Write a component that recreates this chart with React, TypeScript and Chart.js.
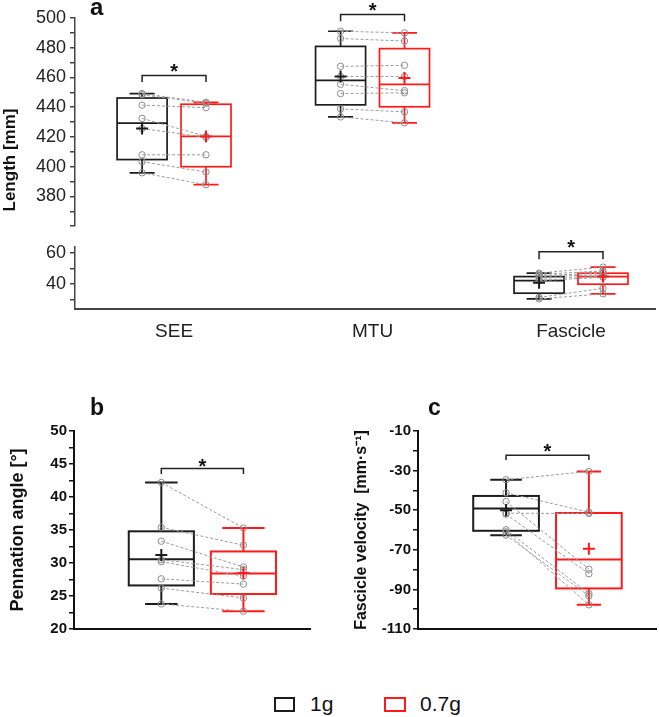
import React, { useEffect, useRef } from 'react';
import { Chart, registerables } from 'chart.js';

Chart.register(...registerables);

const FONT = "'Liberation Sans', Arial, Helvetica, sans-serif";
Chart.defaults.font.family = FONT;

// ---------------- data ----------------
const lengthCategories = ['SEE', 'MTU', 'Fascicle'];
const legendLabels = ['1g', '0.7g'];

const lengthTopTickLabels = [380, 400, 420, 440, 460, 480, 500];
const lengthBottomTickLabels = [40, 60];
const angleTickLabels = [20, 25, 30, 35, 40, 45, 50];
const velocityTickLabels = [-110, -90, -70, -50, -30, -10];

// individual subjects (1g, 0.7g), box stats [low whisker, Q1, median, Q3, high whisker], means [1g, 0.7g]
const see1g = [449.2, 448.4, 441.4, 432.5, 425.7, 408.0, 403.4, 395.9];
const see07g = [443.3, 442.7, 439.7, 420.4, 419.8, 408.0, 396.4, 387.9];
const seeBox1g = [395.9, 404.8, 429.3, 446.2, 449.2];
const seeBox07g = [387.9, 400.0, 420.4, 442.0, 443.3];
const seeMean = [425.7, 420.4];

const mtu1g = [491.1, 486.2, 467.5, 460.7, 455.4, 449.2, 438.9, 433.5];
const mtu07g = [490.0, 484.5, 468.2, 460.7, 451.1, 449.7, 436.9, 429.5];
const mtuBox1g = [433.5, 441.6, 458.0, 480.9, 491.1];
const mtuBox07g = [429.5, 440.3, 455.4, 479.4, 490.0];
const mtuMean = [460.7, 459.6];

const fas1g = [47.1, 46.4, 45.6, 45.0, 43.9, 42.3, 31.5, 30.5];
const fas07g = [51.0, 48.5, 47.1, 46.0, 45.0, 44.5, 37.4, 33.8];
const fasBox1g = [30.5, 34.2, 42.3, 44.9, 47.1];
const fasBox07g = [33.8, 40.0, 44.9, 47.1, 51.0];
const fasMean = [41.0, 44.9];

const angle1g = [42.2, 35.4, 33.3, 30.5, 30.2, 27.6, 26.2, 23.8];
const angle07g = [35.3, 32.7, 29.4, 29.0, 28.0, 26.8, 24.7, 22.7];
const angleBox1g = [23.8, 26.6, 30.55, 34.8, 42.2];
const angleBox07g = [22.7, 25.3, 28.4, 31.75, 35.3];
const angleMean = [31.2, 28.5];

const vel1g = [-34.6, -41.2, -45.6, -51.5, -52.0, -59.9, -60.9, -62.6];
const vel07g = [-30.4, -51.0, -79.8, -51.7, -82.1, -92.1, -97.8, -93.3];
const velBox1g = [-62.6, -60.4, -49.1, -42.8, -34.6];
const velBox07g = [-97.8, -89.5, -74.9, -51.4, -30.4];
const velMean = [-50.0, -69.5];

// tick positions (major + minor) per axis
const lengthTopTicks = [360, 370, 380, 390, 400, 410, 420, 430, 440, 450, 460, 470, 480, 490, 500];
const lengthBottomTicks = [30, 40, 50, 60];
const angleTicks = [20, 22.5, 25, 27.5, 30, 32.5, 35, 37.5, 40, 42.5, 45, 47.5, 50];
const velocityTicks = [-110, -100, -90, -80, -70, -60, -50, -40, -30, -20, -10];

// significance brackets, in data units: [bracket top, leg end, star centre]
const seeSig = [461.3, 456.9, 467.1];
const mtuSig = [502.3, 497.8, 508.5];
const fasSig = [61.0, 56.1, 66.6];
const angleSig = [44.32, 43.47, 45.45];
const velSig = [-22.2, -24.6, -17.9];

// ---------------- layout / style ----------------
const BLACK = '#1c1c1c';
const RED = '#ff1a1a';
const AXIS_A = '#444';
const A_MIN = 0.501;
const A_MAX = 3.423;
const A_OFF = 0.161;
const A_HALF = 0.126;
const BC_X1 = 0.37;
const BC_X2 = 0.718;
const BC_HALF = 0.138;

type Box = { x: number; half: number; cap: number; stats: number[]; color: string; lw: number };
type Bracket = { x1: number; x2: number; sig: number[] };
type Txt = { text: string; x: number; y: number; font: string; align?: CanvasTextAlign; baseline?: CanvasTextBaseline; rotate?: boolean };

function annotPlugin(boxes: Box[], brackets: Bracket[], texts: Txt[]) {
  return {
    id: 'annot',
    beforeDatasetsDraw(chart: any) {
      const { ctx } = chart;
      const x = chart.scales.x;
      const y = chart.scales.y;
      boxes.forEach((b) => {
        const cx = x.getPixelForValue(b.x);
        const hw = x.getPixelForValue(b.x + b.half) - cx;
        const cw = hw * b.cap;
        const [lo, q1, med, q3, hi] = b.stats.map((v) => y.getPixelForValue(v));
        ctx.save();
        ctx.strokeStyle = b.color;
        ctx.lineWidth = b.lw;
        ctx.strokeRect(cx - hw, q3, 2 * hw, q1 - q3);
        ctx.beginPath();
        ctx.moveTo(cx - hw, med);
        ctx.lineTo(cx + hw, med);
        ctx.moveTo(cx, q3);
        ctx.lineTo(cx, hi);
        ctx.moveTo(cx - cw, hi);
        ctx.lineTo(cx + cw, hi);
        ctx.moveTo(cx, q1);
        ctx.lineTo(cx, lo);
        ctx.moveTo(cx - cw, lo);
        ctx.lineTo(cx + cw, lo);
        ctx.stroke();
        ctx.restore();
      });
    },
    afterDraw(chart: any) {
      const { ctx } = chart;
      const x = chart.scales.x;
      const y = chart.scales.y;
      brackets.forEach((br) => {
        const x1 = x.getPixelForValue(br.x1);
        const x2 = x.getPixelForValue(br.x2);
        const top = y.getPixelForValue(br.sig[0]);
        const leg = y.getPixelForValue(br.sig[1]);
        const star = y.getPixelForValue(br.sig[2]);
        ctx.save();
        ctx.strokeStyle = '#222';
        ctx.lineWidth = 1.5;
        ctx.beginPath();
        ctx.moveTo(x1, leg);
        ctx.lineTo(x1, top);
        ctx.lineTo(x2, top);
        ctx.lineTo(x2, leg);
        ctx.stroke();
        ctx.fillStyle = '#111';
        ctx.font = `bold 20px ${FONT}`;
        ctx.textAlign = 'center';
        ctx.textBaseline = 'alphabetic';
        ctx.fillText('*', (x1 + x2) / 2, star + 11.5);
        ctx.restore();
      });
      texts.forEach((t) => {
        ctx.save();
        ctx.fillStyle = '#111';
        ctx.font = t.font;
        ctx.textAlign = t.align || 'left';
        ctx.textBaseline = t.baseline || 'alphabetic';
        ctx.translate(t.x, t.y);
        if (t.rotate) ctx.rotate(-Math.PI / 2);
        ctx.fillText(t.text, 0, 0);
        ctx.restore();
      });
    },
  };
}

function groupDatasets(x1: number, x2: number, g1: number[], g07: number[], means: number[]) {
  const link: any[] = [];
  g1.forEach((v, i) => {
    link.push({ x: x1, y: v }, { x: x2, y: g07[i] }, { x: (x1 + x2) / 2, y: null });
  });
  const pts = (xx: number, arr: number[]) => arr.map((v) => ({ x: xx, y: v }));
  return [
    { type: 'line', data: link, borderColor: '#9d9d9d', borderWidth: 1, borderDash: [3, 2], pointRadius: 0, pointHoverRadius: 0, spanGaps: false, fill: false, showLine: true, order: 3 },
    { type: 'scatter', data: pts(x1, g1), pointStyle: 'circle', pointRadius: 3.2, borderWidth: 1, borderColor: '#8c8c8c', backgroundColor: 'rgba(255,255,255,0)', order: 2 },
    { type: 'scatter', data: pts(x2, g07), pointStyle: 'circle', pointRadius: 3.2, borderWidth: 1, borderColor: '#8c8c8c', backgroundColor: 'rgba(255,255,255,0)', order: 2 },
    { type: 'scatter', data: [{ x: x1, y: means[0] }], pointStyle: 'cross', pointRadius: 6, borderWidth: 2, borderColor: BLACK, order: 1 },
    { type: 'scatter', data: [{ x: x2, y: means[1] }], pointStyle: 'cross', pointRadius: 6, borderWidth: 2, borderColor: RED, order: 1 },
  ];
}

function near(list: number[], v: number) {
  return list.some((t) => Math.abs(t - v) < 1e-6);
}

function baseOptions(scales: any, padding: any) {
  return {
    responsive: false,
    maintainAspectRatio: false,
    animation: false,
    events: [],
    layout: { autoPadding: false, padding },
    plugins: { legend: { display: false }, tooltip: { enabled: false }, title: { display: false } },
    scales,
  };
}

function yAxisA(min: number, max: number, ticksAt: number[], labels: number[]) {
  return {
    type: 'linear',
    min,
    max,
    afterBuildTicks: (s: any) => { s.ticks = ticksAt.map((v) => ({ value: v })); },
    afterFit: (s: any) => { s.width = 75; },
    ticks: {
      autoSkip: false,
      padding: 4,
      color: '#222',
      font: { size: 18, family: FONT },
      callback: (v: number) => (near(labels, v) ? String(Math.round(v)) : ''),
    },
    grid: { display: true, drawOnChartArea: false, drawTicks: true, tickLength: 5, color: AXIS_A, lineWidth: 1.5 },
    border: { display: true, color: AXIS_A, width: 1.5 },
  };
}

function buildLengthTop() {
  const datasets = [
    ...groupDatasets(1 - A_OFF, 1 + A_OFF, see1g, see07g, seeMean),
    ...groupDatasets(2 - A_OFF, 2 + A_OFF, mtu1g, mtu07g, mtuMean),
  ];
  const boxes: Box[] = [
    { x: 1 - A_OFF, half: A_HALF, cap: 0.5, stats: seeBox1g, color: BLACK, lw: 1.7 },
    { x: 1 + A_OFF, half: A_HALF, cap: 0.5, stats: seeBox07g, color: RED, lw: 1.7 },
    { x: 2 - A_OFF, half: A_HALF, cap: 0.5, stats: mtuBox1g, color: BLACK, lw: 1.7 },
    { x: 2 + A_OFF, half: A_HALF, cap: 0.5, stats: mtuBox07g, color: RED, lw: 1.7 },
  ];
  const brackets: Bracket[] = [
    { x1: 1 - A_OFF, x2: 1 + A_OFF, sig: seeSig },
    { x1: 2 - A_OFF, x2: 2 + A_OFF, sig: mtuSig },
  ];
  const texts: Txt[] = [
    { text: 'a', x: 90, y: 15, font: `bold 24px ${FONT}` },
    { text: 'Length [mm]', x: 10, y: 160, font: `bold 17px ${FONT}`, align: 'center', baseline: 'middle', rotate: true },
  ];
  return {
    type: 'scatter',
    data: { datasets },
    options: baseOptions(
      {
        x: { type: 'linear', min: A_MIN, max: A_MAX, display: false },
        y: yAxisA(360, 500, lengthTopTicks, lengthTopTickLabels),
      },
      { left: 0, right: 4, top: 18, bottom: 3 }
    ),
    plugins: [annotPlugin(boxes, brackets, texts)],
  };
}

function buildLengthBottom() {
  const datasets = groupDatasets(3 - A_OFF, 3 + A_OFF, fas1g, fas07g, fasMean);
  const boxes: Box[] = [
    { x: 3 - A_OFF, half: A_HALF, cap: 0.5, stats: fasBox1g, color: BLACK, lw: 1.7 },
    { x: 3 + A_OFF, half: A_HALF, cap: 0.5, stats: fasBox07g, color: RED, lw: 1.7 },
  ];
  const brackets: Bracket[] = [{ x1: 3 - A_OFF, x2: 3 + A_OFF, sig: fasSig }];
  return {
    type: 'scatter',
    data: { datasets },
    options: baseOptions(
      {
        x: {
          type: 'linear',
          min: A_MIN,
          max: A_MAX,
          afterBuildTicks: (s: any) => { s.ticks = lengthCategories.map((_, i) => ({ value: i + 1 })); },
          afterFit: (s: any) => { s.height = 44; },
          ticks: {
            autoSkip: false,
            maxRotation: 0,
            padding: 3,
            color: '#222',
            font: { size: 19, family: FONT },
            callback: (_v: number, i: number) => lengthCategories[i],
          },
          grid: { display: false },
          border: { display: true, color: AXIS_A, width: 2 },
        },
        y: yAxisA(24, 64, lengthBottomTicks, lengthBottomTickLabels),
      },
      { left: 0, right: 4, top: 19, bottom: 0 }
    ),
    plugins: [annotPlugin(boxes, brackets, [])],
  };
}

function yAxisBC(min: number, max: number, ticksAt: number[], labels: number[], width: number, title: string, titleSize: number, titlePad: number) {
  return {
    type: 'linear',
    min,
    max,
    afterBuildTicks: (s: any) => { s.ticks = ticksAt.map((v) => ({ value: v })); },
    afterFit: (s: any) => { s.width = width; },
    ticks: {
      autoSkip: false,
      padding: 2,
      color: '#111',
      font: { size: 15, weight: 'bold', family: FONT },
      callback: (v: number) => (near(labels, v) ? String(Math.round(v)) : ''),
    },
    grid: { display: true, drawOnChartArea: false, drawTicks: true, tickLength: 5, color: '#111', lineWidth: 1.5 },
    border: { display: true, color: '#111', width: 2 },
    title: { display: true, text: title, color: '#111', font: { size: titleSize, weight: 'bold', family: FONT }, padding: { top: titlePad, bottom: 0 } },
  };
}

function xAxisBC(height: number) {
  return {
    type: 'linear',
    min: 0,
    max: 1,
    afterFit: (s: any) => { s.height = height; },
    ticks: { display: false },
    grid: { display: false },
    border: { display: true, color: '#111', width: 2 },
  };
}

function buildAngle() {
  const datasets = groupDatasets(BC_X1, BC_X2, angle1g, angle07g, angleMean);
  const boxes: Box[] = [
    { x: BC_X1, half: BC_HALF, cap: 0.5, stats: angleBox1g, color: BLACK, lw: 2 },
    { x: BC_X2, half: BC_HALF, cap: 0.65, stats: angleBox07g, color: RED, lw: 2 },
  ];
  const brackets: Bracket[] = [{ x1: BC_X1, x2: BC_X2, sig: angleSig }];
  const texts: Txt[] = [{ text: 'b', x: 90, y: 35, font: `bold 23px ${FONT}` }];
  return {
    type: 'scatter',
    data: { datasets },
    options: baseOptions(
      { x: xAxisBC(7), y: yAxisBC(20, 50, angleTicks, angleTickLabels, 74, 'Pennation angle [°]', 18, 7) },
      { left: 0, right: 20, top: 51, bottom: 0 }
    ),
    plugins: [annotPlugin(boxes, brackets, texts)],
  };
}

function buildVelocity() {
  const datasets = groupDatasets(BC_X1, BC_X2, vel1g, vel07g, velMean);
  const boxes: Box[] = [
    { x: BC_X1, half: BC_HALF, cap: 0.48, stats: velBox1g, color: BLACK, lw: 2 },
    { x: BC_X2, half: BC_HALF, cap: 0.37, stats: velBox07g, color: RED, lw: 2 },
  ];
  const brackets: Bracket[] = [{ x1: BC_X1, x2: BC_X2, sig: velSig }];
  const texts: Txt[] = [{ text: 'c', x: 98, y: 35, font: `bold 23px ${FONT}` }];
  return {
    type: 'scatter',
    data: { datasets },
    options: baseOptions(
      { x: xAxisBC(6), y: yAxisBC(-110, -10, velocityTicks, velocityTickLabels, 88, 'Fascicle velocity  [mm·s⁻¹]', 16, 22) },
      { left: 0, right: 3, top: 51, bottom: 0 }
    ),
    plugins: [annotPlugin(boxes, brackets, texts)],
  };
}

function ChartCanvas({ left, top, width, height, build }: { left: number; top: number; width: number; height: number; build: () => any }) {
  const ref = useRef<HTMLCanvasElement | null>(null);
  useEffect(() => {
    if (!ref.current) return;
    const chart = new Chart(ref.current, build());
    return () => chart.destroy();
  }, []);
  return (
    <canvas
      ref={ref}
      width={width}
      height={height}
      style={{ position: 'absolute', left, top, width, height }}
    />
  );
}

export default function App() {
  const legendText: React.CSSProperties = { position: 'absolute', top: 693, font: `21px ${FONT}`, lineHeight: '21px', color: '#111', whiteSpace: 'nowrap' };
  return (
    <div style={{ position: 'absolute', left: 0, top: 0, width: 659, height: 717, background: '#fff', overflow: 'hidden' }}>
      <ChartCanvas left={0} top={0} width={659} height={241} build={buildLengthTop} />
      <ChartCanvas left={0} top={228} width={659} height={125} build={buildLengthBottom} />
      <ChartCanvas left={0} top={380} width={330} height={260} build={buildAngle} />
      <ChartCanvas left={330} top={380} width={329} height={260} build={buildVelocity} />
      <div style={{ position: 'absolute', left: 274, top: 697, width: 17, height: 11, border: `2px solid ${BLACK}` }} />
      <div style={{ ...legendText, left: 310 }}>{legendLabels[0]}</div>
      <div style={{ position: 'absolute', left: 384, top: 697, width: 18, height: 11, border: `2px solid ${RED}` }} />
      <div style={{ ...legendText, left: 420 }}>{legendLabels[1]}</div>
    </div>
  );
}
